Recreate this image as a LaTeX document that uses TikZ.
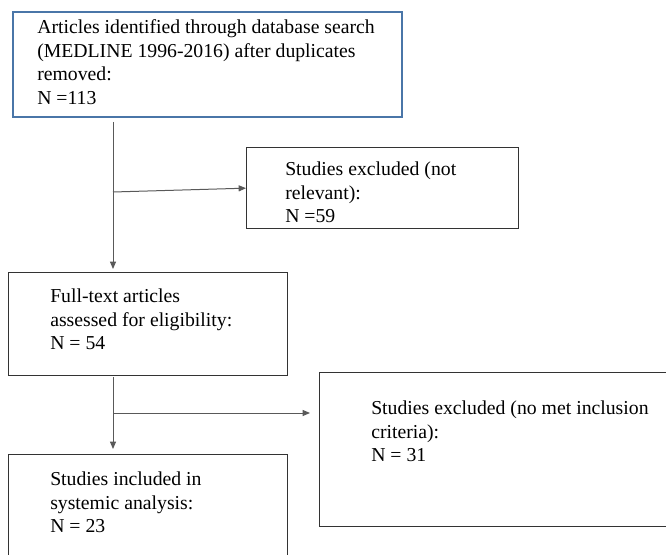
\documentclass[tikz,border=0pt]{standalone}
\usepackage{fontspec}
\setmainfont{Liberation Serif}
\usetikzlibrary{arrows.meta}
\definecolor{boxblue}{RGB}{74,118,168}
\begin{document}
\begin{tikzpicture}[x=0.75pt,y=-0.75pt,
  box/.style={draw=black!80,line width=1pt,anchor=north west,inner sep=0pt},
  txt/.style={anchor=north west,align=left,inner sep=0pt,font=\fontsize{14.8}{17.6}\selectfont},
  flow/.style={draw=black!65,line width=0.75pt,-{Triangle[length=5.5pt,width=4.5pt]}}]
\useasboundingbox (0,0) rectangle (666,555);
\node[box,draw=boxblue,line width=1.2pt,minimum width=291.75pt,minimum height=78.75pt] (search) at (12,11) {};
\node[box,minimum width=204pt,minimum height=60.75pt] (excl1) at (246,147) {};
\node[box,minimum width=209.25pt,minimum height=77.25pt] (fulltext) at (8,272) {};
\node[box,minimum width=209.25pt,minimum height=77.25pt] (incl) at (8,454) {};
\node[box,minimum width=285pt,minimum height=115.5pt] (excl2) at (319,372) {};
\node[txt] (searchtxt) at (37,19.5) {Articles identified through database search\\(MEDLINE 1996-2016) after duplicates\\removed:\\N =113};
\node[txt] (excl1txt) at (285,162) {Studies excluded (not\\relevant):\\N =59};
\node[txt] (fulltexttxt) at (50,289) {Full-text articles\\assessed for eligibility:\\N = 54};
\node[txt] (incltxt) at (50,472) {Studies included in\\systemic analysis:\\N = 23};
\node[txt] (excl2txt) at (371,401) {Studies excluded (no met inclusion\\criteria):\\N = 31};
\coordinate (s1) at (113,122);
\coordinate (j1) at (113,192);
\coordinate (s2) at (113,377);
\coordinate (j2) at (113,413);
\draw[flow,shorten >=2.25pt] (s1) -- (s1 |- fulltext.north);
\draw[flow] (j1) -- (excl1.west);
\draw[flow,shorten >=3.75pt] (s2) -- (s2 |- incl.north);
\draw[flow,shorten >=6.75pt] (j2) -- (j2 -| excl2.west);
\end{tikzpicture}
\end{document}
